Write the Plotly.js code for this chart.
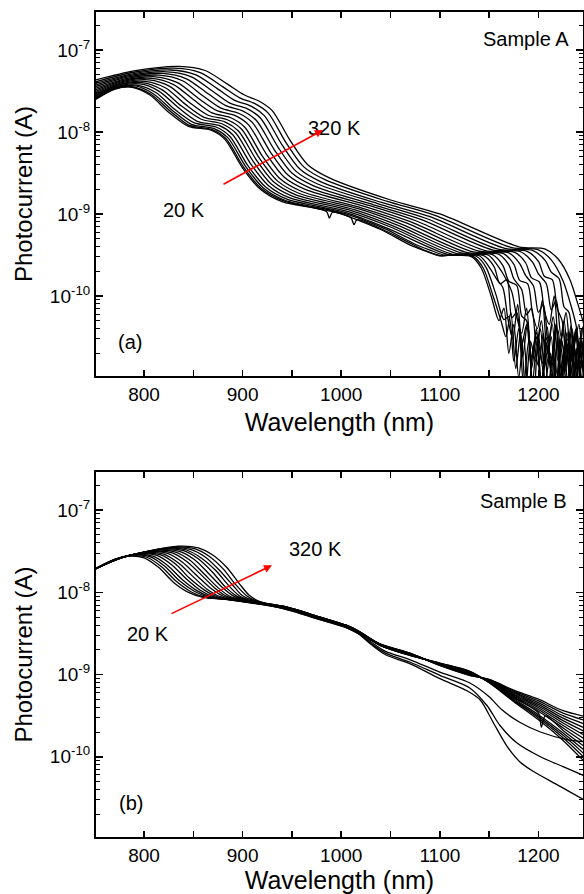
<!DOCTYPE html>
<html>
<head>
<meta charset="utf-8">
<script src="https://cdn.plot.ly/plotly-3.0.1.min.js"></script>
<style>html,body{margin:0;padding:0;background:#fff;}#chart{width:584px;height:894px;}</style>
</head>
<body>
<div id="chart"></div>
<script>
// Temperatures of the measured spectra (K)
const temperaturesK = [20, 40, 60, 80, 100, 120, 140, 160, 180, 200, 220, 240, 260, 280, 300, 320];

// ---------- Sample A: wavelength (nm) per spectrum ----------
const wavelengthA = [
  [750,770,788,806,825,845,868,882,900,918,940,985,988,991,1000,1040,1070,1085,1100,1115,1132,1142,1152,1160,1165,1170,1175,1180,1185,1190,1195,1200,1205,1210,1215,1220,1225,1230,1235,1240,1245,1250],
  [750,771,789,807,827,846,869,883,901,919,941,1001,1010,1013,1016,1042,1072,1088,1102,1118,1134,1144,1154,1162,1167,1172,1177,1182,1187,1192,1197,1202,1207,1212,1217,1222,1227,1232,1237,1242,1247,1252],
  [750,771,791,809,829,848,871,885,903,921,943,1003,1044,1075,1090,1105,1121,1137,1147,1157,1165,1170,1175,1180,1185,1190,1195,1200,1205,1210,1215,1220,1225,1230,1235,1240,1245,1250],
  [750,772,793,812,831,851,873,887,905,923,945,1005,1046,1109,1140,1150,1158,1164,1169,1174,1179,1184,1189,1194,1199,1204,1209,1214,1219,1224,1229,1234,1239,1244,1249],
  [750,773,796,815,835,854,876,890,908,926,948,1008,1050,1113,1144,1155,1161,1168,1173,1178,1183,1188,1193,1198,1203,1208,1213,1218,1223,1228,1233,1238,1243,1248],
  [750,774,798,818,838,858,879,893,911,929,951,1011,1053,1118,1149,1159,1166,1173,1178,1183,1188,1193,1198,1203,1208,1213,1218,1223,1228,1233,1238,1243,1248,1253],
  [750,776,801,822,842,861,882,896,914,932,954,1014,1057,1123,1153,1164,1170,1178,1183,1188,1193,1198,1203,1208,1213,1218,1223,1228,1233,1238,1243,1248],
  [750,777,805,826,846,865,885,899,917,935,957,1018,1061,1128,1159,1170,1175,1183,1188,1193,1198,1203,1208,1213,1218,1223,1228,1233,1238,1243,1248,1253],
  [750,779,808,830,851,869,888,902,920,938,960,1021,1066,1134,1164,1175,1181,1189,1194,1199,1204,1209,1214,1219,1224,1229,1234,1239,1244,1249],
  [750,780,812,834,855,874,892,906,924,942,964,1025,1070,1140,1170,1181,1187,1195,1200,1205,1210,1215,1220,1225,1230,1235,1240,1245,1250],
  [750,782,815,839,860,878,896,910,928,946,968,1029,1075,1146,1176,1187,1193,1201,1206,1211,1216,1221,1226,1231,1236,1241,1246,1251],
  [750,783,819,843,865,883,900,914,932,950,972,1033,1080,1153,1182,1194,1200,1208,1213,1218,1223,1228,1233,1238,1243,1248],
  [750,785,823,848,870,887,904,918,936,954,976,1037,1085,1159,1188,1200,1206,1214,1219,1224,1229,1234,1239,1244,1249],
  [750,787,827,852,875,892,908,922,940,958,980,1041,1090,1166,1194,1207,1213,1221,1226,1231,1236,1241,1246,1251],
  [750,788,831,857,880,897,912,926,944,962,984,1046,1095,1173,1200,1213,1225,1233,1238,1243,1248],
  [750,790,835,862,885,902,916,930,948,966,988,1050,1100,1180,1207,1220,1232,1240,1245,1250]
];
// ---------- Sample A: photocurrent (A) per spectrum ----------
const photocurrentA = [
  [2.45e-8,3.31e-8,3.51e-8,2.82e-8,1.74e-8,1.17e-8,1.05e-8,8.13e-9,3.63e-9,2.00e-9,1.41e-9,1.07e-9,8.91e-10,1.05e-9,1.00e-9,6.46e-10,4.17e-10,3.55e-10,3.09e-10,3.16e-10,3.02e-10,2.19e-10,1.00e-10,5.01e-11,7.1e-11,2.0e-11,4.5e-11,1.0e-11,3.2e-11,6.0e-12,2.5e-11,1.4e-11,3.5e-11,8.0e-12,2.2e-11,5.0e-12,1.8e-11,3.0e-11,9.0e-12,2.4e-11,6.0e-12,1.5e-11],
  [2.51e-8,3.39e-8,3.55e-8,2.88e-8,1.78e-8,1.20e-8,1.07e-8,8.32e-9,3.72e-9,2.04e-9,1.45e-9,1.00e-9,8.91e-10,7.41e-10,8.51e-10,6.46e-10,4.27e-10,3.47e-10,3.09e-10,3.24e-10,3.02e-10,2.19e-10,1.0e-10,5.01e-11,3.2e-11,6.3e-11,1.3e-11,3.6e-11,7.0e-12,2.8e-11,1.6e-11,4.0e-11,9.0e-12,2.0e-11,4.5e-12,2.6e-11,1.2e-11,3.4e-11,7.5e-12,2.1e-11,1.1e-11,2.9e-11],
  [2.54e-8,3.42e-8,3.64e-8,2.94e-8,1.82e-8,1.24e-8,1.10e-8,8.53e-9,3.81e-9,2.08e-9,1.47e-9,1.02e-9,6.64e-10,4.27e-10,3.63e-10,3.14e-10,3.24e-10,3.05e-10,2.22e-10,1.03e-10,5.15e-11,5.6e-11,1.6e-11,4.0e-11,8.0e-12,2.8e-11,5.0e-12,3.3e-11,1.2e-11,2.4e-11,6.5e-12,3.8e-11,1.0e-11,2.2e-11,5.5e-12,2.7e-11,1.3e-11,8.0e-12],
  [2.61e-8,3.50e-8,3.73e-8,3.03e-8,1.89e-8,1.29e-8,1.15e-8,8.85e-9,3.94e-9,2.15e-9,1.52e-9,1.04e-9,6.76e-10,3.18e-10,3.09e-10,2.25e-10,1.58e-10,1.26e-10,5.26e-11,3.0e-11,7.9e-11,1.8e-11,4.8e-11,9.0e-12,3.0e-11,1.5e-11,4.2e-11,7.0e-12,2.5e-11,1.1e-11,3.6e-11,6.0e-12,2.3e-11,1.4e-11,3.1e-11],
  [2.69e-8,3.60e-8,3.85e-8,3.15e-8,1.97e-8,1.35e-8,1.20e-8,9.25e-9,4.12e-9,2.23e-9,1.57e-9,1.06e-9,6.93e-10,3.22e-10,3.12e-10,2.28e-10,1.41e-10,1.58e-10,5.40e-11,6.3e-11,2.5e-11,4.5e-11,1.3e-11,3.2e-11,5.0e-12,2.7e-11,1.5e-11,4.4e-11,8.5e-12,2.3e-11,1.2e-11,3.7e-11,7.0e-12,2.0e-11],
  [2.77e-8,3.72e-8,3.99e-8,3.28e-8,2.07e-8,1.43e-8,1.26e-8,9.70e-9,4.32e-9,2.32e-9,1.64e-9,1.09e-9,7.11e-10,3.27e-10,3.16e-10,2.31e-10,1.70e-10,1.12e-10,5.55e-11,3.5e-11,7.1e-11,1.6e-11,4.0e-11,7.9e-12,3.1e-11,1.7e-11,4.6e-11,1.0e-11,2.6e-11,6.0e-12,3.3e-11,1.3e-11,2.4e-11,9.0e-12],
  [2.87e-8,3.84e-8,4.15e-8,3.44e-8,2.17e-8,1.51e-8,1.33e-8,1.02e-8,4.54e-9,2.43e-9,1.71e-9,1.12e-9,7.31e-10,3.32e-10,3.21e-10,2.35e-10,1.51e-10,1.35e-10,5.71e-11,5.0e-11,1.8e-11,3.6e-11,8.9e-12,2.5e-11,1.2e-11,4.1e-11,6.3e-12,2.9e-11,1.6e-11,3.8e-11,7.5e-12,2.2e-11],
  [2.99e-8,3.98e-8,4.32e-8,3.60e-8,2.29e-8,1.60e-8,1.40e-8,1.08e-8,4.79e-9,2.55e-9,1.79e-9,1.15e-9,7.53e-10,3.38e-10,3.25e-10,2.39e-10,1.62e-10,1.20e-10,5.90e-11,7.1e-11,2.5e-11,5.0e-11,1.4e-11,3.2e-11,5.0e-12,3.0e-11,1.6e-11,4.3e-11,9.5e-12,2.7e-11,1.2e-11,3.5e-11],
  [3.10e-8,4.13e-8,4.51e-8,3.78e-8,2.43e-8,1.71e-8,1.49e-8,1.15e-8,5.07e-9,2.68e-9,1.88e-9,1.18e-9,7.78e-10,3.44e-10,3.30e-10,2.44e-10,1.55e-10,1.41e-10,6.10e-11,4.0e-11,8.9e-11,2.0e-11,4.5e-11,1.1e-11,2.8e-11,6.5e-12,3.4e-11,1.5e-11,4.0e-11,1.0e-11],
  [3.24e-8,4.30e-8,4.71e-8,3.99e-8,2.58e-8,1.82e-8,1.59e-8,1.22e-8,5.38e-9,2.82e-9,1.98e-9,1.22e-9,8.04e-10,3.51e-10,3.35e-10,2.48e-10,1.78e-10,1.32e-10,6.31e-11,7.9e-11,2.8e-11,5.6e-11,1.6e-11,3.6e-11,7.9e-12,2.9e-11,1.3e-11,4.2e-11,1.1e-11],
  [3.38e-8,4.48e-8,4.93e-8,4.21e-8,2.74e-8,1.95e-8,1.69e-8,1.30e-8,5.73e-9,2.98e-9,2.08e-9,1.26e-9,8.32e-10,3.58e-10,3.40e-10,2.54e-10,1.66e-10,1.48e-10,6.55e-11,4.5e-11,1.0e-10,2.2e-11,5.0e-11,1.3e-11,2.5e-11,8.0e-12,3.2e-11,1.5e-11],
  [3.54e-8,4.67e-8,5.18e-8,4.45e-8,2.92e-8,2.09e-8,1.81e-8,1.38e-8,6.10e-9,3.15e-9,2.20e-9,1.29e-9,8.63e-10,3.66e-10,3.46e-10,2.59e-10,1.86e-10,1.41e-10,6.79e-11,8.9e-11,3.2e-11,6.3e-11,1.8e-11,4.0e-11,1.0e-11,2.8e-11],
  [3.70e-8,4.86e-8,5.42e-8,4.71e-8,3.11e-8,2.25e-8,1.94e-8,1.48e-8,6.50e-9,3.33e-9,2.32e-9,1.34e-9,8.93e-10,3.73e-10,3.52e-10,2.64e-10,1.74e-10,1.58e-10,7.06e-11,5.0e-11,2.0e-11,4.0e-11,1.3e-11,2.8e-11,7.9e-12],
  [3.88e-8,5.08e-8,5.70e-8,4.99e-8,3.33e-8,2.43e-8,2.08e-8,1.58e-8,6.95e-9,3.53e-9,2.45e-9,1.38e-9,9.27e-10,3.81e-10,3.59e-10,2.70e-10,1.95e-10,1.62e-10,7.35e-11,6.3e-11,2.5e-11,4.5e-11,1.6e-11,3.2e-11],
  [4.06e-8,5.31e-8,6.00e-8,5.30e-8,3.55e-8,2.61e-8,2.23e-8,1.70e-8,7.41e-9,3.75e-9,2.60e-9,1.43e-9,9.62e-10,3.89e-10,3.65e-10,2.75e-10,1.52e-10,7.64e-11,4.5e-11,2.0e-11,3.2e-11],
  [4.27e-8,5.56e-8,6.31e-8,5.62e-8,3.80e-8,2.82e-8,2.40e-8,1.82e-8,7.94e-9,3.98e-9,2.75e-9,1.48e-9,1.0e-9,3.98e-10,3.72e-10,2.82e-10,1.58e-10,7.94e-11,5.01e-11,3.16e-11]
];

// ---------- Sample B: wavelength (nm) per spectrum ----------
const wavelengthB = [
  [750,770,785,800,815,830,845,860,885,945,975,1005,1017,1030,1045,1070,1100,1128,1141,1154,1168,1181,1195,1222,1250],
  [750,771,788,803,818,833,848,862,887,945,975,1005,1017,1030,1045,1070,1100,1130,1148,1161,1178,1202,1225,1250],
  [750,771,791,806,821,836,851,865,889,945,975,1005,1017,1030,1045,1070,1100,1130,1150,1163,1181,1202,1229,1250],
  [750,772,794,809,824,839,854,868,890,945,975,1005,1020,1040,1070,1100,1130,1150,1175,1200,1225,1250],
  [750,772,797,813,828,843,857,871,893,945,975,1005,1020,1040,1070,1100,1130,1150,1175,1200,1225,1250],
  [750,773,800,817,832,846,861,874,895,945,975,1005,1020,1040,1070,1100,1130,1150,1175,1200,1225,1250],
  [750,774,804,820,835,850,864,877,897,945,975,1005,1020,1040,1070,1100,1130,1150,1175,1200,1225,1250],
  [750,774,807,824,839,854,868,881,899,945,975,1005,1020,1040,1070,1100,1130,1150,1175,1200,1203,1207,1225,1250],
  [750,775,811,828,843,858,872,884,901,945,975,1005,1020,1040,1070,1100,1130,1150,1175,1200,1225,1250],
  [750,776,814,832,847,861,875,887,904,945,975,1005,1020,1040,1070,1100,1130,1150,1175,1200,1225,1250],
  [750,777,818,836,851,865,879,891,906,945,975,1005,1020,1040,1070,1100,1130,1150,1175,1200,1225,1250],
  [750,777,821,840,855,869,882,894,908,945,975,1005,1020,1040,1070,1100,1130,1150,1175,1200,1225,1250],
  [750,778,825,843,858,873,886,897,910,945,975,1005,1020,1040,1070,1100,1130,1150,1175,1200,1225,1250],
  [750,779,828,847,862,876,890,900,913,945,975,1005,1020,1040,1070,1100,1130,1150,1175,1200,1225,1250],
  [750,779,832,851,866,880,893,904,915,945,975,1005,1020,1040,1070,1100,1130,1150,1175,1200,1225,1250],
  [750,780,835,855,870,884,897,907,917,945,975,1005,1020,1040,1070,1100,1130,1150,1175,1200,1225,1250]
];
// ---------- Sample B: photocurrent (A) per spectrum ----------
const photocurrentB = [
  [1.91e-8,2.51e-8,2.75e-8,2.63e-8,2.0e-8,1.32e-8,1.0e-8,8.71e-9,8.13e-9,6.17e-9,4.79e-9,3.72e-9,3.16e-9,2.34e-9,1.74e-9,1.35e-9,8.91e-10,6.31e-10,4.90e-10,2.63e-10,1.35e-10,8.71e-11,6.61e-11,4.37e-11,2.82e-11],
  [1.91e-8,2.51e-8,2.79e-8,2.67e-8,2.03e-8,1.35e-8,1.01e-8,8.73e-9,8.11e-9,6.31e-9,4.90e-9,3.80e-9,3.20e-9,2.40e-9,1.82e-9,1.41e-9,9.77e-10,6.92e-10,4.17e-10,2.40e-10,1.48e-10,1.0e-10,7.59e-11,5.62e-11],
  [1.91e-8,2.53e-8,2.84e-8,2.71e-8,2.07e-8,1.38e-8,1.03e-8,8.75e-9,8.09e-9,6.31e-9,4.90e-9,3.80e-9,3.24e-9,2.51e-9,1.91e-9,1.51e-9,1.07e-9,7.94e-10,5.37e-10,3.72e-10,2.63e-10,2.0e-10,1.62e-10,1.51e-10],
  [1.91e-8,2.54e-8,2.88e-8,2.75e-8,2.12e-8,1.42e-8,1.04e-8,8.77e-9,8.07e-9,6.46e-9,5.01e-9,3.89e-9,3.16e-9,2.24e-9,1.70e-9,1.38e-9,1.10e-9,7.94e-10,4.68e-10,2.82e-10,1.58e-10,7.94e-11],
  [1.91e-8,2.55e-8,2.94e-8,2.81e-8,2.16e-8,1.45e-8,1.06e-8,8.81e-9,8.04e-9,6.61e-9,5.13e-9,3.98e-9,3.24e-9,2.25e-9,1.71e-9,1.37e-9,1.09e-9,8.0e-10,4.81e-10,2.96e-10,1.70e-10,8.87e-11],
  [1.91e-8,2.56e-8,2.99e-8,2.86e-8,2.21e-8,1.49e-8,1.07e-8,8.83e-9,8.02e-9,6.46e-9,5.01e-9,3.89e-9,3.16e-9,2.25e-9,1.72e-9,1.36e-9,1.08e-9,8.07e-10,4.93e-10,3.10e-10,1.82e-10,9.93e-11],
  [1.91e-8,2.58e-8,3.05e-8,2.91e-8,2.27e-8,1.54e-8,1.09e-8,8.85e-9,8.00e-9,6.31e-9,4.90e-9,3.80e-9,3.09e-9,2.26e-9,1.73e-9,1.36e-9,1.06e-9,8.13e-10,5.07e-10,3.25e-10,1.95e-10,1.11e-10],
  [1.91e-8,2.59e-8,3.11e-8,2.97e-8,2.32e-8,1.58e-8,1.11e-8,8.89e-9,7.96e-9,6.61e-9,5.13e-9,3.98e-9,3.24e-9,2.28e-9,1.74e-9,1.35e-9,1.05e-9,8.18e-10,5.21e-10,3.41e-10,2.29e-10,3.16e-10,2.09e-10,1.24e-10],
  [1.91e-8,2.60e-8,3.17e-8,3.03e-8,2.38e-8,1.63e-8,1.12e-8,8.91e-9,7.94e-9,6.46e-9,5.01e-9,3.89e-9,3.16e-9,2.28e-9,1.75e-9,1.34e-9,1.04e-9,8.26e-10,5.35e-10,3.58e-10,2.24e-10,1.39e-10],
  [1.91e-8,2.61e-8,3.24e-8,3.09e-8,2.44e-8,1.67e-8,1.14e-8,8.95e-9,7.91e-9,6.17e-9,4.79e-9,3.72e-9,3.02e-9,2.29e-9,1.76e-9,1.33e-9,1.04e-9,8.32e-10,5.50e-10,3.76e-10,2.40e-10,1.55e-10],
  [1.91e-8,2.63e-8,3.30e-8,3.15e-8,2.50e-8,1.72e-8,1.16e-8,8.97e-9,7.89e-9,6.61e-9,5.13e-9,3.98e-9,3.24e-9,2.30e-9,1.77e-9,1.33e-9,1.03e-9,8.38e-10,5.65e-10,3.94e-10,2.57e-10,1.73e-10],
  [1.91e-8,2.64e-8,3.36e-8,3.21e-8,2.56e-8,1.78e-8,1.18e-8,8.99e-9,7.87e-9,6.46e-9,5.01e-9,3.89e-9,3.16e-9,2.31e-9,1.78e-9,1.32e-9,1.02e-9,8.45e-10,5.79e-10,4.14e-10,2.75e-10,1.94e-10],
  [1.91e-8,2.65e-8,3.43e-8,3.27e-8,2.62e-8,1.83e-8,1.20e-8,9.03e-9,7.83e-9,6.31e-9,4.90e-9,3.80e-9,3.09e-9,2.32e-9,1.79e-9,1.31e-9,1.0e-9,8.51e-10,5.96e-10,4.34e-10,2.95e-10,2.16e-10],
  [1.91e-8,2.67e-8,3.49e-8,3.33e-8,2.69e-8,1.88e-8,1.22e-8,9.06e-9,7.82e-9,6.61e-9,5.13e-9,3.98e-9,3.24e-9,2.33e-9,1.80e-9,1.30e-9,9.95e-10,8.57e-10,6.12e-10,4.55e-10,3.16e-10,2.42e-10],
  [1.91e-8,2.68e-8,3.56e-8,3.40e-8,2.75e-8,1.94e-8,1.24e-8,9.10e-9,7.78e-9,6.46e-9,5.01e-9,3.89e-9,3.16e-9,2.33e-9,1.81e-9,1.29e-9,9.86e-10,8.65e-10,6.28e-10,4.78e-10,3.39e-10,2.70e-10],
  [1.91e-8,2.69e-8,3.63e-8,3.47e-8,2.82e-8,2.0e-8,1.26e-8,9.12e-9,7.76e-9,6.31e-9,4.90e-9,3.80e-9,3.09e-9,2.34e-9,1.82e-9,1.29e-9,9.77e-10,8.71e-10,6.46e-10,5.01e-10,3.63e-10,3.02e-10]
];

// Axis tick values and labels
const xTickVals = [800, 900, 1000, 1100, 1200];
const xTickText = ['800', '900', '1000', '1100', '1200'];
const yTickVals = [1e-10, 1e-9, 1e-8, 1e-7];
const yTickText = ['10<sup>-10</sup>', '10<sup>-9</sup>', '10<sup>-8</sup>', '10<sup>-7</sup>'];
const panelLabels = ['(a)', '(b)'];
const sampleLabels = ['Sample A', 'Sample B'];
const arrowLabels = ['20 K', '320 K'];

const FONT = 'Arial, "Liberation Sans", Helvetica, sans-serif';
const traces = [];
temperaturesK.forEach((T, i) => {
  traces.push({
    x: wavelengthA[i], y: photocurrentA[i], type: 'scatter', mode: 'lines',
    name: 'A ' + T + ' K', xaxis: 'x', yaxis: 'y', hoverinfo: 'skip',
    line: {color: '#000', width: 1.3, shape: 'spline', smoothing: 0.8}
  });
});
temperaturesK.forEach((T, i) => {
  traces.push({
    x: wavelengthB[i], y: photocurrentB[i], type: 'scatter', mode: 'lines',
    name: 'B ' + T + ' K', xaxis: 'x2', yaxis: 'y2', hoverinfo: 'skip',
    line: {color: '#000', width: 1.3, shape: 'spline', smoothing: 0.8}
  });
});

function xAxis(anchor) {
  return {
    anchor: anchor, domain: [0, 1], range: [751.3, 1245.2],
    showline: true, linecolor: '#000', linewidth: 2, mirror: 'ticks',
    ticks: 'inside', ticklen: 6, tickwidth: 1.5, tickcolor: '#000',
    tickmode: 'array', tickvals: xTickVals, ticktext: xTickText,
    minor: {tickmode: 'linear', dtick: 50, tick0: 0, ticks: 'inside', ticklen: 6, tickwidth: 1.5, tickcolor: '#000', showgrid: false},
    showgrid: false, zeroline: false,
    tickfont: {family: FONT, size: 19, color: '#000'},
    title: {text: 'Wavelength (nm)', font: {family: FONT, size: 25, color: '#000'}, standoff: 10},
    automargin: false
  };
}
function yAxis(anchor, domain) {
  return {
    anchor: anchor, domain: domain, type: 'log', range: [-10.976, -6.537],
    showline: true, linecolor: '#000', linewidth: 2, mirror: 'ticks',
    ticks: 'inside', ticklen: 7, tickwidth: 1.5, tickcolor: '#000',
    tickmode: 'array', tickvals: yTickVals, ticktext: yTickText,
    minor: {tickmode: 'linear', dtick: 'D1', ticks: 'inside', ticklen: 4, tickwidth: 1, tickcolor: '#000', showgrid: false},
    showgrid: false, zeroline: false,
    tickfont: {family: FONT, size: 19, color: '#000'},
    title: {text: 'Photocurrent (A)', font: {family: FONT, size: 24, color: '#000'}, standoff: 10},
    automargin: false
  };
}

function txt(xref, yref, x, y, text) {
  return {xref: xref, yref: yref, x: x, y: y, text: text, showarrow: false,
    font: {family: FONT, size: 20, color: '#000'}, xanchor: 'center', yanchor: 'middle'};
}
function arrow(xref, yref, x, y, ax, ay) {
  return {xref: xref, yref: yref, x: x, y: y, ax: ax, ay: ay, text: '', showarrow: true,
    arrowcolor: '#ff0000', arrowwidth: 1.6, arrowhead: 2, arrowsize: 1, standoff: 0, startstandoff: 0};
}

const layout = {
  width: 584, height: 894,
  margin: {l: 96, r: 1, t: 12, b: 57, pad: 0},
  showlegend: false,
  paper_bgcolor: '#fff', plot_bgcolor: '#fff',
  font: {family: FONT, size: 19, color: '#000'},
  xaxis: xAxis('y'),
  yaxis: yAxis('x', [0.5588, 1]),
  xaxis2: xAxis('y2'),
  yaxis2: yAxis('x2', [0, 0.4424]),
  annotations: [
    txt('x', 'y', 1187.4, -6.866, sampleLabels[0]),
    txt('x', 'y', 992.7, -7.951, arrowLabels[1]),
    txt('x', 'y', 840.6, -8.951, arrowLabels[0]),
    txt('x', 'y', 785.8, -10.561, panelLabels[0]),
    arrow('x', 'y', 981.5, -7.976, -101, 55),
    txt('x2', 'y2', 1184.4, -6.894, sampleLabels[1]),
    txt('x2', 'y2', 974.4, -7.478, arrowLabels[1]),
    txt('x2', 'y2', 804.1, -8.510, arrowLabels[0]),
    txt('x2', 'y2', 786.8, -10.564, panelLabels[1]),
    arrow('x2', 'y2', 929.8, -7.672, -102, 49)
  ]
};

Plotly.newPlot('chart', traces, layout, {staticPlot: true, displayModeBar: false});
</script>
</body>
</html>
